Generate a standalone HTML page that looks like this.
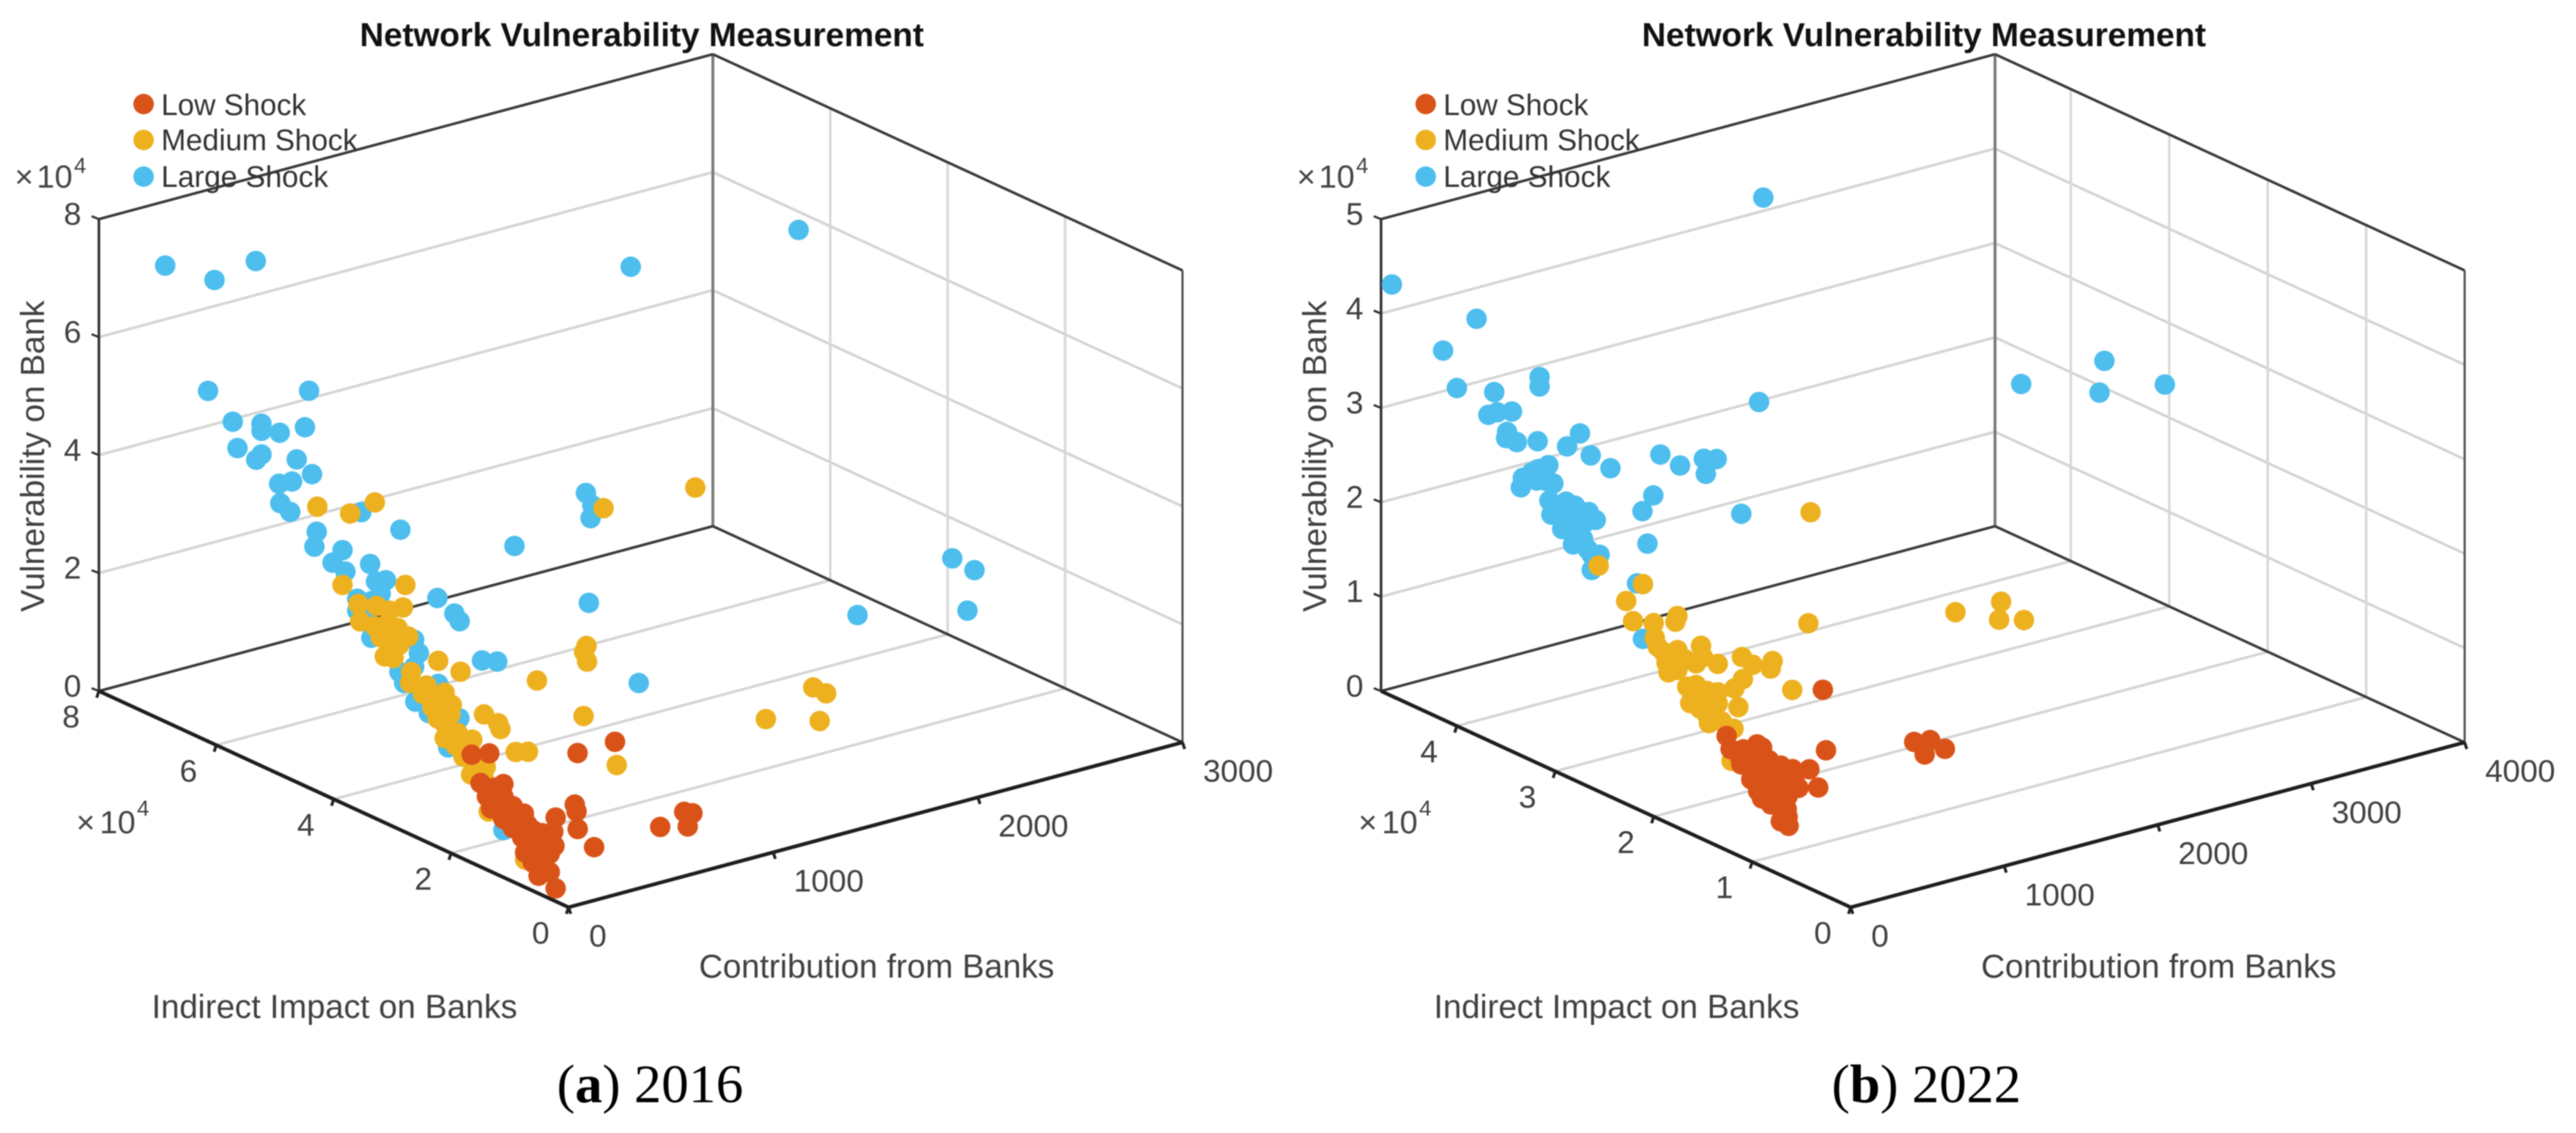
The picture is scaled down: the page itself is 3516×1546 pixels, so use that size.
<!DOCTYPE html>
<html lang="en">
<head>
<meta charset="utf-8">
<title>Network Vulnerability Measurement</title>
<style>
html,body{margin:0;padding:0;background:#fff;}
svg{display:block;width:3516px;height:1546px;filter:blur(0.7px);}
text{font-family:"Liberation Sans",sans-serif;fill:#3a3a3a;}
.title{font-size:45.4px;font-weight:bold;fill:#111;}
.legend-text{font-size:40.6px;fill:#333;}
.axis-title{font-size:45.2px;fill:#404040;}
.tick{font-size:43px;fill:#404040;}
.mult{font-size:44px;fill:#444;}
.caption{font-family:"Liberation Serif",serif;font-size:74.5px;fill:#000;}
</style>
</head>
<body>
<svg id="figure" xmlns="http://www.w3.org/2000/svg" width="3516" height="1546" viewBox="0 0 3516 1546">
  <rect x="0" y="0" width="3516" height="1546" fill="#fff"/>

  <g id="panel-a">
    <g id="plot-a"></g>
    <text class="title" x="491" y="63" textLength="770" lengthAdjust="spacingAndGlyphs">Network Vulnerability Measurement</text>
    <g>
      <circle cx="196" cy="142" r="14" fill="#D95319"/>
      <text class="legend-text" x="220" y="157" textLength="198" lengthAdjust="spacingAndGlyphs">Low Shock</text>
      <circle cx="196" cy="191" r="14" fill="#EDB120"/>
      <text class="legend-text" x="220" y="205" textLength="268" lengthAdjust="spacingAndGlyphs">Medium Shock</text>
      <circle cx="196" cy="241" r="14" fill="#4DBEEE"/>
      <text class="legend-text" x="220" y="255" textLength="228" lengthAdjust="spacingAndGlyphs">Large Shock</text>
    </g>
    <text class="mult" x="20" y="256">×</text>
    <text class="mult" x="50" y="256">10</text>
    <text class="tick" x="101" y="236" style="font-size:30px">4</text>
    <text class="mult" x="104" y="1137">×</text>
    <text class="mult" x="136" y="1137">10</text>
    <text class="tick" x="187" y="1113" style="font-size:30px">4</text>
    <text class="axis-title" transform="translate(60,835) rotate(-90)" textLength="425" lengthAdjust="spacingAndGlyphs">Vulnerability on Bank</text>
    <text class="axis-title" x="207" y="1389" textLength="499" lengthAdjust="spacingAndGlyphs">Indirect Impact on Banks</text>
    <text class="axis-title" x="954" y="1334" textLength="485" lengthAdjust="spacingAndGlyphs">Contribution from Banks</text>
  </g>

  <g id="panel-b" transform="translate(1750,0)">
    <g id="plot-b"></g>
    <text class="title" x="491" y="63" textLength="770" lengthAdjust="spacingAndGlyphs">Network Vulnerability Measurement</text>
    <g>
      <circle cx="196" cy="142" r="14" fill="#D95319"/>
      <text class="legend-text" x="220" y="157" textLength="198" lengthAdjust="spacingAndGlyphs">Low Shock</text>
      <circle cx="196" cy="191" r="14" fill="#EDB120"/>
      <text class="legend-text" x="220" y="205" textLength="268" lengthAdjust="spacingAndGlyphs">Medium Shock</text>
      <circle cx="196" cy="241" r="14" fill="#4DBEEE"/>
      <text class="legend-text" x="220" y="255" textLength="228" lengthAdjust="spacingAndGlyphs">Large Shock</text>
    </g>
    <text class="mult" x="20" y="256">×</text>
    <text class="mult" x="50" y="256">10</text>
    <text class="tick" x="101" y="236" style="font-size:30px">4</text>
    <text class="mult" x="104" y="1137">×</text>
    <text class="mult" x="136" y="1137">10</text>
    <text class="tick" x="187" y="1113" style="font-size:30px">4</text>
    <text class="axis-title" transform="translate(60,835) rotate(-90)" textLength="425" lengthAdjust="spacingAndGlyphs">Vulnerability on Bank</text>
    <text class="axis-title" x="207" y="1389" textLength="499" lengthAdjust="spacingAndGlyphs">Indirect Impact on Banks</text>
    <text class="axis-title" x="954" y="1334" textLength="485" lengthAdjust="spacingAndGlyphs">Contribution from Banks</text>
  </g>

  <text class="caption" x="760" y="1504">(<tspan font-weight="bold">a</tspan>) 2016</text>
  <text class="caption" x="2500" y="1504">(<tspan font-weight="bold">b</tspan>) 2022</text>
</svg>

<script>
// Rows are [contribution from banks, indirect impact (x10^4), vulnerability (x10^4)].
const contributionTicksA = [0, 1000, 2000, 3000];
const indirectTicksA = [0, 2, 4, 6, 8];
const vulnerabilityTicksA = [0, 2, 4, 6, 8];
const contributionTicksB = [0, 1000, 2000, 3000, 4000];
const indirectTicksB = [0, 1, 2, 3, 4];
const vulnerabilityTicksB = [0, 1, 2, 3, 4, 5];

const largeShockA = [
[0,6.87,7.73],[0,6.03,7.87],[500,7.07,7.25],[1500,4.17,7.55],[2300,4.10,7.46],[0,6.14,5.94],[0,4.42,6.73],[0,5.72,5.61],
[0,5.23,5.80],[0,5.23,5.68],[0,4.92,5.79],[0,4.49,6.08],[0,5.64,5.20],[0,5.23,5.28],[0,5.32,5.15],[0,4.63,5.47],
[0,4.37,5.34],[0,4.93,4.92],[0,4.71,5.06],[0,4.91,4.60],[0,4.74,4.53],[0,3.53,5.08],[0,4.29,4.40],[0,4.33,4.13],
[300,3.91,4.33],[800,3.71,3.68],[0,3.85,4.29],[0,4.02,4.00],[0,3.80,3.95],[0,3.38,4.27],[0,3.11,4.12],[0,3.28,4.02],
[0,3.20,3.85],[0,3.60,3.58],[0,3.36,3.65],[0,3.60,3.38],[0,3.48,3.36],[0,3.36,3.03],[300,3.28,3.46],[300,2.99,3.33],
[300,2.90,3.24],[0,2.63,3.33],[0,2.55,3.14],[0,2.63,2.87],[0,2.88,2.67],[0,2.80,2.52],[0,2.22,2.77],[300,2.52,2.75],
[300,2.26,2.85],[0,2.61,2.29],[0,2.38,2.20],[0,1.86,2.35],[0,2.05,1.77],[0,1.11,0.80],[1000,3.19,4.63],[1000,3.08,4.47],
[1000,3.11,4.24],[2400,1.83,2.84],[2500,1.80,2.56],[2500,1.92,1.82],[2000,2.05,2.15],[1000,3.14,2.79],[1000,2.29,1.82]
];
const mediumShockA = [
[0,4.28,4.83],[0,3.72,4.97],[0,3.30,5.35],[1500,3.07,4.31],[1000,2.89,4.51],[0,3.85,3.70],[0,2.78,4.19],[0,2.82,3.79],
[0,3.58,3.50],[0,3.27,3.61],[0,3.05,3.63],[0,3.55,3.22],[0,3.30,3.25],[0,2.91,3.40],[0,2.73,3.34],[0,3.05,3.05],
[0,2.98,2.86],[0,2.68,2.76],[0,2.70,2.57],[0,2.42,2.65],[0,2.48,2.48],[0,2.11,2.67],[0,1.99,2.52],[0,2.16,2.30],
[0,2.23,2.18],[0,2.05,2.10],[0,2.11,1.90],[0,1.92,1.86],[0,1.64,2.09],[0,1.79,1.73],[0,1.41,1.73],[0,1.66,1.49],
[0,2.22,3.16],[0,1.84,3.15],[600,2.63,2.08],[0,1.44,2.61],[0,1.20,2.57],[0,1.16,2.49],[0,0.90,2.22],[0,0.69,2.32],
[1000,3.18,2.04],[1000,3.22,1.92],[1000,3.17,1.78],[1000,3.23,0.83],[600,1.27,1.27],[1600,1.41,1.59],[1600,1.19,1.59],
[1400,1.52,1.19],[1600,1.30,1.07],[0,0.74,0.47],[0,1.36,1.00],
[0,3.07,3.41],[0,3.20,3.11],[0,2.88,3.13],[0,3.13,2.82],[0,2.32,2.51],[0,2.20,2.45],[0,2.32,2.33],[0,2.13,2.16],
[0,2.01,2.35],[0,1.89,2.09],[0,1.57,1.80],[0,1.70,1.87],[0,1.45,1.55]
];
const lowShockA = [
[0,1.65,1.83],[0,1.35,1.99],[500,1.59,1.42],[600,1.30,1.65],[0,1.50,1.42],[0,1.11,1.58],[0,1.39,1.24],[0,1.11,1.37],
[0,1.32,1.07],[0,1.04,1.20],[0,0.76,1.24],[0,1.11,0.99],[0,0.95,0.91],[0,0.60,1.03],[0,0.45,1.05],[0,0.79,0.82],
[0,0.24,0.93],[0,0.49,0.78],[0,0.74,0.59],[0,0.61,0.48],[0,0.45,0.55],[0,0.41,0.43],[0,0.22,0.22],[0,0.22,1.42],
[300,0.94,1.03],[300,0.91,0.93],[300,0.89,0.64],[300,0.61,0.46],[0,1.20,1.25],[0,0.86,1.07],[0,0.70,0.77],[0,0.54,0.88],
[700,0.47,0.75],[700,0.33,0.79],[700,0.41,0.53],[600,0.53,0.56],[0,0.32,0.76],[0,0.51,0.30],[0,0.32,0.45],
[0,1.26,1.45],[0,0.95,1.28],[0,0.70,1.08],[0,0.89,1.18],[0,0.39,0.92],[0,0.64,0.61],[0,0.51,0.49],[0,0.39,0.67],
[0,0.26,1.16],[0,0.97,1.02],[0,0.82,0.94]
];

const largeShockB = [
[1900,3.85,4.84],[0,4.66,4.36],[0,3.80,4.41],[0,4.14,3.91],[0,3.16,4.10],[0,3.16,4.00],[0,4.00,3.58],[0,3.62,3.72],
[1000,2.49,3.72],[2400,2.01,3.53],[3000,2.10,3.47],[3000,2.15,3.11],[3400,2.11,3.04],[0,3.44,3.60],[0,3.59,3.52],[0,3.68,3.45],
[0,3.49,3.36],[0,3.50,3.29],[0,3.39,3.30],[0,3.18,3.41],[0,2.75,3.70],[0,2.88,3.50],[0,2.64,3.52],[0,2.44,3.48],
[800,3.18,2.92],[800,2.98,2.90],[1000,3.05,2.85],[1000,2.92,2.91],[1000,3.03,2.70],[0,3.07,3.21],[0,3.17,3.12],[0,3.33,2.95],
[0,3.10,3.03],[0,3.35,2.84],[0,3.19,2.99],[600,2.94,2.69],[600,3.05,2.47],[1000,2.67,2.45],[600,3.00,2.15],[0,3.06,2.84],
[0,2.89,2.91],[0,3.04,2.70],[0,2.92,2.77],[0,2.66,2.91],[0,2.76,2.83],[0,2.59,2.86],[0,2.70,2.78],[0,2.93,2.60],
[0,2.82,2.69],[0,2.82,2.49],[0,2.67,2.51],[0,2.55,2.51],[0,2.63,2.47],[0,2.63,2.31],[0,2.17,2.39],[0,2.11,1.83],
[0,2.98,2.82],[0,2.83,2.78],[0,2.80,2.91],[0,3.02,3.04],[0,3.24,3.05],[0,2.72,2.60],[0,2.80,2.64]
];
const mediumShockB = [
[1400,2.59,2.33],[0,2.56,2.39],[0,2.11,2.41],[0,2.28,2.15],[0,2.21,1.97],[0,2.00,2.05],[0,1.76,2.24],[0,1.78,2.17],
[0,1.99,1.90],[0,1.96,1.82],[0,1.76,1.88],[0,1.52,2.04],[0,1.50,1.93],[0,1.35,1.93],[0,1.85,1.60],[600,2.04,1.41],
[600,1.93,1.38],[800,2.04,1.28],[800,2.06,1.19],[600,2.03,1.18],[500,1.96,1.16],[500,1.92,0.98],[800,1.84,1.07],[1200,2.30,1.38],
[0,1.66,1.54],[0,1.46,1.59],[0,1.61,1.44],[0,1.50,1.44],[0,1.40,1.37],[0,1.53,1.37],[0,1.44,1.26],[0,1.19,1.32],
[0,1.56,1.49],[0,1.63,1.38],[1600,1.43,1.74],[2000,1.59,1.60],[2000,1.61,1.40],[2200,1.67,1.28],[0,1.21,0.97],
[0,1.57,1.60],[0,1.53,1.50],[0,1.42,1.52],[0,1.35,1.51],[0,1.42,1.44],[0,1.35,1.63],[0,1.90,1.79],[0,1.87,1.69],
[0,1.76,1.67],[0,1.68,1.82],[0,1.57,1.83],[0,1.31,1.34],[0,1.46,1.34]
];
const lowShockB = [
[800,1.53,1.22],[500,1.03,0.95],[0,0.95,1.27],[0,1.26,1.21],[0,1.22,1.09],[0,1.09,1.15],[0,0.83,1.16],[0,0.99,1.09],
[0,0.59,1.18],[0,0.42,1.26],[0,0.33,1.11],[0,1.01,0.87],[0,0.86,0.97],[0,0.73,1.01],[0,0.62,1.03],[0,0.94,0.78],
[0,0.79,0.83],[0,0.64,0.87],[0,0.81,0.70],[0,0.65,0.73],[0,0.63,0.56],[0,1.11,0.98],[600,0.29,1.35],[800,0.44,1.21],
[700,0.34,1.15],[800,0.29,1.19],[0,0.90,1.07],[0,0.71,1.16],[0,0.53,1.01],[0,0.71,0.57],
[0,1.12,1.04],[0,0.97,0.99],[0,0.86,0.85],[0,0.75,0.79],[0,0.71,0.92],[0,0.57,1.11],[0,0.83,0.95],[0,0.70,0.70],
[0,0.64,0.65],[0,0.90,1.26],[0,0.75,1.10],[0,0.90,0.72]
];

const SVG_NS = 'http://www.w3.org/2000/svg';
const COLOR_LOW = '#D95319';
const COLOR_MEDIUM = '#EDB120';
const COLOR_LARGE = '#4DBEEE';

function drawPanel(hostId, opts) {
  const host = document.getElementById(hostId);
  const front = [776, 1238];
  const xVec = [838, -225];
  const yVec = [-641, -295];
  const zVec = [0, -644];

  function project(x, y, z) {
    const a = x / opts.xMax;
    const b = y / opts.yMax;
    const c = z / opts.zMax;
    return [front[0] + a * xVec[0] + b * yVec[0] + c * zVec[0],
            front[1] + a * xVec[1] + b * yVec[1] + c * zVec[1]];
  }

  function line(p, q, stroke, width, name) {
    const el = document.createElementNS(SVG_NS, 'line');
    el.setAttribute('x1', p[0]);
    el.setAttribute('y1', p[1]);
    el.setAttribute('x2', q[0]);
    el.setAttribute('y2', q[1]);
    el.setAttribute('stroke', stroke);
    el.setAttribute('stroke-width', width);
    
    
    host.appendChild(el);
  }

  function label(text, x, y, anchor, name) {
    const el = document.createElementNS(SVG_NS, 'text');
    el.setAttribute('class', 'tick');
    el.setAttribute('x', x);
    el.setAttribute('y', y);
    el.setAttribute('text-anchor', anchor);
    
    
    el.textContent = text;
    host.appendChild(el);
  }

  const X = opts.xMax, Y = opts.yMax, Z = opts.zMax;
  const GRID = '#d4d4d4';

  // Gridlines: vulnerability levels around both back walls
  opts.zTicks.forEach(function (t) {
    if (t === 0 || t === Z) return;
    line(project(0, Y, t), project(X, Y, t), GRID, 3.6, 'z-gridline-back-left');
    line(project(X, Y, t), project(X, 0, t), GRID, 3.6, 'z-gridline-back-right');
  });
  // Gridlines: indirect-impact levels on the floor and the right wall
  opts.yTicks.forEach(function (t) {
    if (t === 0) return;
    line(project(0, t, 0), project(X, t, 0), GRID, 3.6, 'y-gridline-floor');
    line(project(X, t, 0), project(X, t, Z), '#d8d8d8', 3.4, 'y-gridline-wall');
  });

  // Box edges
  line(project(0, Y, 0), project(0, Y, Z), '#333', 3.6, 'z-axis-line');
  line(project(X, Y, 0), project(X, Y, Z), '#7c7c7c', 4, 'back-vertical-edge');
  line(project(X, 0, 0), project(X, 0, Z), '#555', 3, 'right-vertical-edge');
  line(project(0, Y, Z), project(X, Y, Z), '#3a3a3a', 3.6, 'top-left-edge');
  line(project(X, Y, Z), project(X, 0, Z), '#3a3a3a', 3.6, 'top-right-edge');
  line(project(0, Y, 0), project(X, Y, 0), '#3a3a3a', 3.6, 'floor-back-left-edge');
  line(project(X, Y, 0), project(X, 0, 0), '#3a3a3a', 3.6, 'floor-back-right-edge');
  line(project(0, 0, 0), project(0, Y, 0), '#1e1e1e', 5, 'y-axis-line');
  line(project(0, 0, 0), project(X, 0, 0), '#1e1e1e', 5, 'x-axis-line');

  // Ticks and tick labels
  opts.zTicks.forEach(function (t) {
    const p = project(0, Y, t);
    line(p, [p[0] - 10, p[1] - 4], '#333', 3, 'z-tick');
    label(String(t), p[0] - 36, p[1] + 7.5, 'middle', 'z-tick-label');
  });
  opts.yTicks.forEach(function (t) {
    const p = project(0, t, 0);
    line(p, [p[0] - 3, p[1] + 9], '#222', 4, 'y-tick');
    label(String(t), p[0] - 38, p[1] + 49.5, 'middle', 'y-tick-label');
  });
  opts.xTicks.forEach(function (t) {
    const p = project(t, 0, 0);
    line(p, [p[0] + 3, p[1] + 9], '#222', 4, 'x-tick');
    label(String(t), p[0] + 28, p[1] + 53.5, 'start', 'x-tick-label');
  });

  // Series: Large first, then Medium, then Low on top
  function scatter(rows, color, name) {
    rows.forEach(function (row) {
      const p = project(row[0], row[1], row[2]);
      const el = document.createElementNS(SVG_NS, 'circle');
      el.setAttribute('cx', p[0].toFixed(1));
      el.setAttribute('cy', p[1].toFixed(1));
      el.setAttribute('r', 14);
      el.setAttribute('fill', color);
      
      
      host.appendChild(el);
    });
  }
  scatter(opts.large, COLOR_LARGE, 'large-shock-point');
  scatter(opts.medium, COLOR_MEDIUM, 'medium-shock-point');
  scatter(opts.low, COLOR_LOW, 'low-shock-point');
}

drawPanel('plot-a', {
  xMax: 3000, yMax: 8, zMax: 8,
  xTicks: contributionTicksA, yTicks: indirectTicksA, zTicks: vulnerabilityTicksA,
  large: largeShockA, medium: mediumShockA, low: lowShockA
});
drawPanel('plot-b', {
  xMax: 4000, yMax: 4.77, zMax: 5,
  xTicks: contributionTicksB, yTicks: indirectTicksB, zTicks: vulnerabilityTicksB,
  large: largeShockB, medium: mediumShockB, low: lowShockB
});
</script>
</body>
</html>
